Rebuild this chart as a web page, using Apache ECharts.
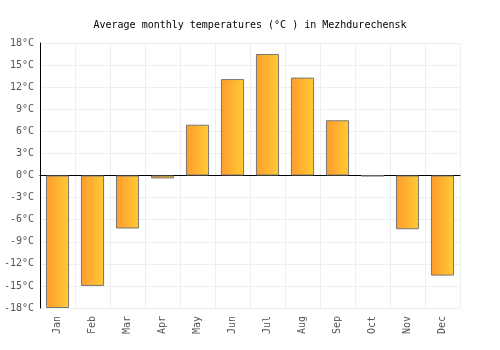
<!DOCTYPE html>
<html>
<head>
<meta charset="utf-8">
<script src="https://cdn.jsdelivr.net/npm/echarts@6/dist/echarts.min.js"></script>
<style>html,body{margin:0;padding:0;background:#fff}#c{width:500px;height:350px}</style>
</head>
<body>
<div id="c"></div>
<script>
const months = ['Jan','Feb','Mar','Apr','May','Jun','Jul','Aug','Sep','Oct','Nov','Dec'];
const temps = [-18.0, -15.0, -7.2, -0.4, 6.9, 13.1, 16.5, 13.3, 7.5, -0.1, -7.3, -13.6];
const titleText = 'Average monthly temperatures (°C ) in Mezhdurechensk';
const font = '"DejaVu Sans Mono", monospace';

const chart = echarts.init(document.getElementById('c'));
chart.setOption({
  animation: false,
  title: {
    text: titleText, left: 'center', top: 15,
    textStyle: { fontFamily: font, fontSize: 10, fontWeight: 'normal', color: '#000' }
  },
  grid: { left: 40, right: 40, top: 43, bottom: 42 },
  xAxis: {
    type: 'category', data: months,
    axisLine: { show: true, onZero: true, lineStyle: { color: '#000', width: 1 } },
    axisTick: { show: false },
    axisLabel: { rotate: 90, fontFamily: font, fontSize: 10, color: '#555', margin: 8 },
    splitLine: { show: true, lineStyle: { color: '#eee', width: 1 } }
  },
  yAxis: {
    type: 'value', min: -18, max: 18, interval: 3,
    axisLine: { show: true, lineStyle: { color: '#000', width: 1 } },
    axisTick: { show: false },
    axisLabel: { formatter: '{value}°C', fontFamily: font, fontSize: 10, color: '#555', margin: 6 },
    splitLine: { show: true, lineStyle: { color: '#eee', width: 1 } }
  },
  series: [{
    type: 'bar', data: temps, barWidth: '66%',
    itemStyle: {
      color: new echarts.graphic.LinearGradient(0, 0, 1, 0, [
        { offset: 0, color: '#ff9a2e' }, { offset: 1, color: '#ffcc33' }
      ]),
      borderColor: '#777', borderWidth: 1
    }
  }]
});
</script>
</body>
</html>
